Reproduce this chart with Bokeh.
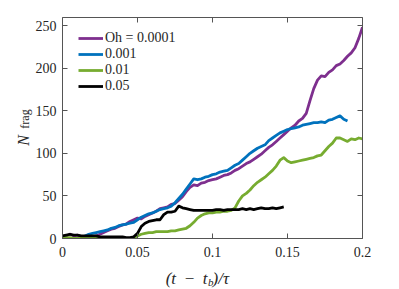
import math
from bokeh.plotting import figure
from bokeh.models import (ColumnDataSource, Range1d, FixedTicker, LinearAxis,
                          Legend, LegendItem, Label)
from bokeh.embed import file_html
from bokeh.resources import INLINE

# ---------------- data ----------------
t = [0.0, 0.0025, 0.005, 0.0075, 0.01, 0.0125, 0.015, 0.0175, 0.02, 0.0225,
     0.025, 0.0275, 0.03, 0.0325, 0.035, 0.0375, 0.04, 0.0425, 0.045, 0.0475,
     0.05, 0.0525, 0.055, 0.0575, 0.06, 0.0625, 0.065, 0.0675, 0.07, 0.0725,
     0.075, 0.0775, 0.08, 0.0825, 0.085, 0.0875, 0.09, 0.0925, 0.095, 0.0975,
     0.1, 0.1025, 0.105, 0.1075, 0.11, 0.1125, 0.115, 0.1175, 0.12, 0.1225,
     0.125, 0.1275, 0.13, 0.1325, 0.135, 0.1375, 0.14, 0.1425, 0.145, 0.1475,
     0.15, 0.1525, 0.155, 0.1575, 0.16, 0.1625, 0.165, 0.1675, 0.17, 0.1725,
     0.175, 0.1775, 0.18, 0.1825, 0.185, 0.1875, 0.19, 0.1925, 0.195, 0.1975,
     0.2]

n_oh_0001 = [2, 3, 5, 3, 4, 1, 0, 1, 2, 3,
             5, 7, 9, 11, 12, 14, 16, 17, 20, 22,
             24, 23, 26, 28, 30, 32, 35, 36, 37, 40,
             41, 45, 49, 55, 60, 63, 62, 65, 66, 68,
             69, 70, 72, 74, 75, 77, 80, 82, 85, 88,
             90, 93, 96, 99, 103, 107, 110, 114, 118, 122,
             126, 130, 133, 138, 141, 147, 162, 176, 186, 191,
             190, 195, 198, 203, 205, 209, 214, 218, 224, 235,
             248]

n_oh_001 = [0, 0, 0, 0, 0, 1, 3, 5, 6, 7,
            8, 9, 10, 12, 13, 15, 16, 17, 18, 19,
            22, 25, 27, 29, 30, 32, 34, 35, 36, 38,
            42, 47, 52, 58, 64, 70, 69, 70, 72, 73,
            75, 76, 78, 79, 80, 83, 86, 88, 92, 96,
            100, 103, 106, 108, 110, 115, 118, 121, 124, 126,
            128, 129, 130, 131, 133, 134, 135, 136, 136, 137,
            136, 139, 140, 142, 144, 140, 138]

n_oh_01 = [1, 1, 1, 0, 0, 0, 0, 0, 0, 0,
           0, 0, 0, 0, 0, 0, 0, 0, 0, 1,
           3, 5, 6, 7, 7, 8, 8, 8, 8, 9,
           9, 10, 11, 12, 15, 19, 24, 27, 29, 30,
           30, 31, 31, 32, 32, 33, 36, 44, 50, 53,
           57, 62, 66, 69, 72, 76, 80, 85, 92, 95,
           91, 89, 90, 91, 92, 93, 94, 95, 97, 98,
           103, 108, 112, 118, 118, 116, 114, 117, 116, 118,
           117]

n_oh_05 = [3, 4, 5, 4, 4, 3, 3, 3, 3, 3,
           2, 2, 2, 2, 2, 2, 2, 1, 1, 2,
           6, 14, 18, 20, 21, 22, 22, 28, 31, 31,
           32, 38, 36, 35, 34, 33, 33, 33, 33, 33,
           33, 34, 34, 33, 34, 34, 34, 34, 35, 34,
           35, 34, 35, 36, 35, 35, 36, 35, 36, 37]

series_labels = ["Oh = 0.0001", "0.001", "0.01", "0.05"]
series_colors = ["#7E2F8E", "#0072BD", "#77AC30", "#000000"]
x_ticks = [0, 0.05, 0.1, 0.15, 0.2]
x_tick_labels = ["0", "0.05", "0.1", "0.15", "0.2"]
y_ticks = [0, 50, 100, 150, 200, 250]

FONT = "Liberation Serif"
AX = "#555555"
TXT = "#262626"

p = figure(width=399, height=289, output_backend="svg", toolbar_location=None,
           x_range=Range1d(0, 0.2), y_range=Range1d(0, 259.5),
           min_border_left=62, min_border_right=37, min_border_top=17,
           min_border_bottom=51)
p.grid.visible = False
p.outline_line_color = None
p.background_fill_color = "white"

items = []
all_y = [n_oh_0001, n_oh_001, n_oh_01, n_oh_05]
for lab, col, ys in zip(series_labels, series_colors, all_y):
    src = ColumnDataSource(dict(x=t[:len(ys)], y=ys))
    r = p.line("x", "y", source=src, line_color=col, line_width=2.8,
               line_join="round")
    items.append(LegendItem(label=lab, renderers=[r]))

def style_axis(ax, ticks, show_labels):
    ax.ticker = FixedTicker(ticks=ticks)
    ax.axis_line_color = AX
    ax.major_tick_line_color = AX
    ax.minor_tick_line_color = None
    ax.major_tick_in = 5
    ax.major_tick_out = 0
    ax.major_label_text_font = FONT
    ax.major_label_text_font_size = "14px"
    ax.major_label_text_color = TXT
    ax.axis_label = None
    if not show_labels:
        ax.major_label_overrides = {tk: "" for tk in ticks}

style_axis(p.xaxis[0], x_ticks, True)
p.xaxis[0].major_label_overrides = {tk: lb for tk, lb in zip(x_ticks, x_tick_labels)}
p.xaxis[0].major_label_standoff = 8
style_axis(p.yaxis[0], y_ticks, True)
p.yaxis[0].major_label_standoff = 6

top = LinearAxis()
style_axis(top, x_ticks, False)
top.major_label_standoff = 0
p.add_layout(top, "above")
right = LinearAxis()
style_axis(right, y_ticks, False)
right.major_label_standoff = 0
p.add_layout(right, "right")

leg = Legend(items=items, location=(16, 144))
leg.label_text_font = FONT
leg.label_text_font_size = "14px"
leg.label_text_color = TXT
leg.glyph_width = 25
leg.glyph_height = 16
leg.label_height = 16
leg.label_standoff = 2
leg.spacing = 0
leg.margin = 0
leg.padding = 0
leg.background_fill_alpha = 0
leg.border_line_alpha = 0
p.add_layout(leg)

# x axis label: (t - t_b)/tau   (positions in data units, placed in side panels)
p.add_layout(Label(x=0.0967, y=-47, text="(t \u2009\u2212\u2009 t", text_align="right",
                   text_baseline="alphabetic", text_font=FONT,
                   text_font_style="italic", text_font_size="17px",
                   text_color=TXT), "below")
p.add_layout(Label(x=0.0970, y=-50.5, text="b", text_align="left",
                   text_baseline="alphabetic", text_font=FONT,
                   text_font_style="italic", text_font_size="11px",
                   text_color=TXT), "right")
p.add_layout(Label(x=0.1000, y=-47, text=")/\u03c4", text_align="left",
                   text_baseline="alphabetic", text_font=FONT,
                   text_font_style="italic", text_font_size="17px",
                   text_color=TXT), "right")

# y axis label: N_frag
p.add_layout(Label(x=-0.0263, y=109, text="N", angle=math.pi / 2,
                   text_align="left", text_baseline="middle", text_font=FONT,
                   text_font_style="italic", text_font_size="16px",
                   text_color=TXT), "left")
p.add_layout(Label(x=-0.0247, y=129, text="frag", angle=math.pi / 2,
                   text_align="left", text_baseline="middle", text_font=FONT,
                   text_font_size="12px", text_color=TXT), "left")

open("out.html", "w").write(file_html(p, INLINE))
